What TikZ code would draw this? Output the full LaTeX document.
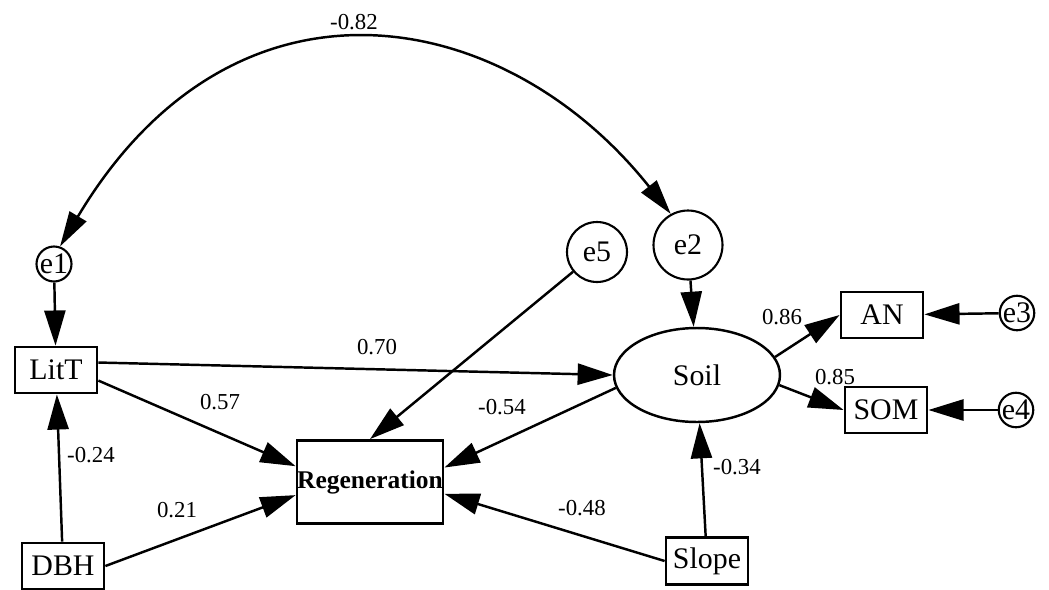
\documentclass[tikz,border=0pt]{standalone}
\usepackage{fontspec}
\setmainfont{Liberation Serif}
\usetikzlibrary{arrows.meta,shapes.geometric}

\begin{document}
\begin{tikzpicture}[x=0.02cm, y=-0.02cm,
		var/.style={draw=black, line width=1.6pt, rectangle, inner sep=0pt, minimum width=1.64cm, minimum height=0.92cm, font=\fontsize{17}{20}\selectfont},
		err/.style={draw=black, line width=1.2pt, circle, inner sep=0pt, font=\fontsize{17}{20}\selectfont},
		coef/.style={inner sep=0pt, font=\fontsize{13}{15}\selectfont},
		fleche/.style={line width=1.4pt, -{Triangle[length=20pt,width=12pt]}},
	]
		\useasboundingbox (0,0) rectangle (1049,589);

		% Variables
		\node[var] at (56,370) (litt) {LitT};
		\node[var] at (63,566) (dbh) {DBH};
		\node[var, minimum width=2.92cm, minimum height=1.66cm, font=\fontsize{14.5}{17}\selectfont\bfseries] at (370,482) (regen) {Regeneration};
		\node[var] at (882,315) (an) {AN};
		\node[var] at (886,410) (som) {SOM};
		\node[var, minimum height=0.94cm] at (707,561) (slope) {Slope};
		\node[draw=black, line width=1.4pt, ellipse, inner sep=0pt, minimum width=3.32cm, minimum height=1.88cm, font=\fontsize{17}{20}\selectfont] at (697,375) (soil) {Soil};

		% Erreurs
		\node[err, minimum size=0.7cm] at (54,264) (e1) {e1};
		\node[err, minimum size=1.38cm] at (688,245) (e2) {e2};
		\node[err, minimum size=0.66cm] at (1017,313) (e3) {e3};
		\node[err, minimum size=0.68cm] at (1016,410) (e4) {e4};
		\node[err, minimum size=1.2cm] at (597,252) (e5) {e5};

		% Chemins
		\draw[fleche] (e1) -- (litt);
		\draw[fleche] (dbh) -- (litt);
		\draw[fleche] (litt.10) -- (soil.west);
		\draw[fleche] (litt.-14) -- (regen.168);
		\draw[fleche] (dbh.east) -- (regen.190);
		\draw[fleche] (e5) -- (regen.north);
		\draw[fleche] (soil.189) -- (regen.11);
		\draw[fleche] (slope.west) -- (regen.-9);
		\draw[fleche] (slope) -- (soil);
		\draw[fleche] (e2) -- (soil);
		\draw[fleche] (soil.13) -- (an.west);
		\draw[fleche] (soil.-7) -- (som.west);
		\draw[fleche] (e3) -- (an);
		\draw[fleche] (e4) -- (som);
		\draw[fleche, {Triangle[length=20pt,width=11pt]}-{Triangle[length=20pt,width=11pt]}] (e1.71) .. controls (234,-45) and (504,4) .. (e2.119);

		% Coefficients
		\node[coef] at (354,22) (k1) {-0.82};
		\node[coef] at (377,347) (k2) {0.70};
		\node[coef] at (220,402) (k3) {0.57};
		\node[coef] at (502,407) (k4) {-0.54};
		\node[coef] at (91,455) (k5) {-0.24};
		\node[coef] at (177,510) (k6) {0.21};
		\node[coef] at (582,508) (k7) {-0.48};
		\node[coef] at (737,467) (k8) {-0.34};
		\node[coef] at (782,317) (k9) {0.86};
		\node[coef] at (835,377) (k10) {0.85};

\end{tikzpicture}
\end{document}
